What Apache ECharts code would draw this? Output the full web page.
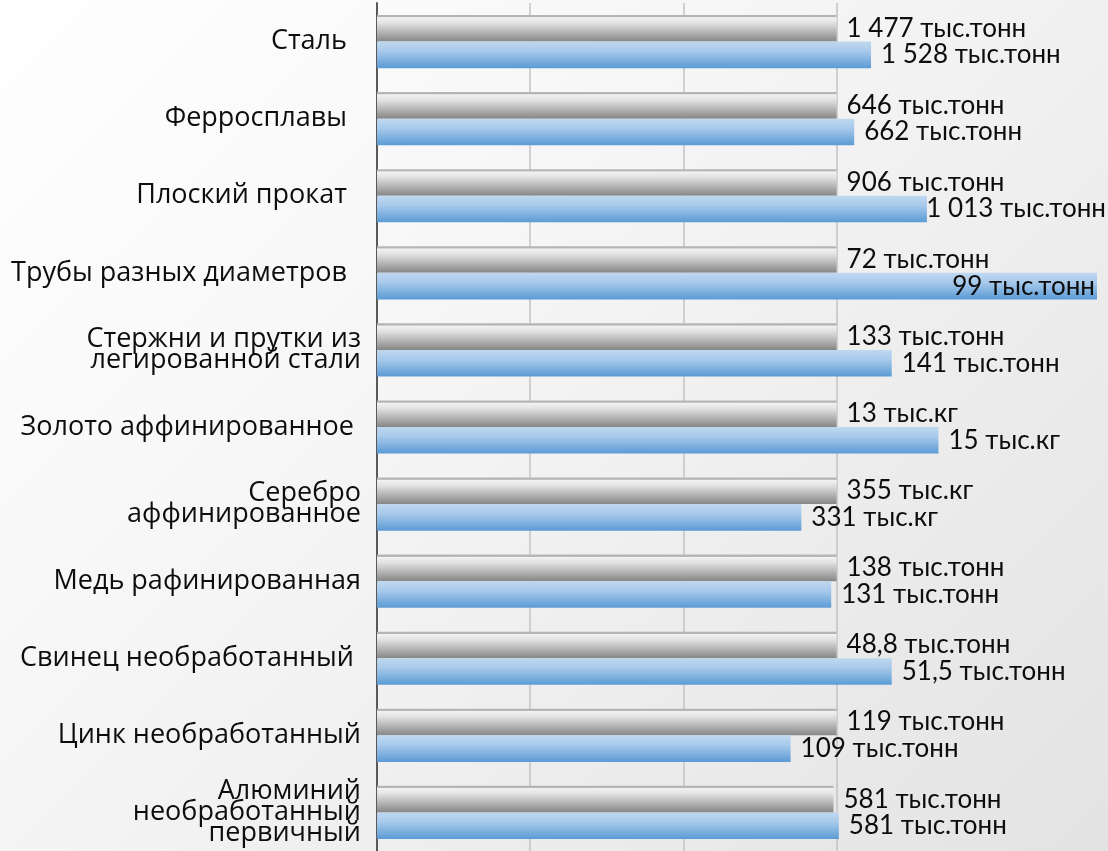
<!DOCTYPE html>
<html>
<head>
<meta charset="utf-8">
<script src="https://cdn.jsdelivr.net/npm/echarts@6/dist/echarts.min.js"></script>
<style>
html,body{margin:0;padding:0;}
body{background:linear-gradient(135deg,#ffffff 0%,#f7f7f7 35%,#ececec 70%,#e3e3e3 100%);}
#chart{width:1108px;height:851px;}
</style>
</head>
<body>
<div id="chart"></div>
<script>
// Categories (top to bottom)
const categories = [
  'Сталь  ',
  'Ферросплавы  ',
  'Плоский прокат  ',
  'Трубы разных диаметров  ',
  'Стержни и прутки из\nлегированной стали',
  'Золото аффинированное ',
  'Серебро\nаффинированное',
  'Медь рафинированная',
  'Свинец необработанный ',
  'Цинк необработанный',
  'Алюминий\nнеобработанный\nпервичный'
];
// Relative bar lengths (previous period = 100)
const prevValues = [100, 100, 100, 100, 100, 100, 100, 100, 100, 100, 99.6];
const currValues = [104.5, 102.3, 111.8, 137.5, 107.2, 113.3, 95.4, 99.3, 107.2, 94.0, 100.3];
// Data label texts
const prevLabels = ['1 477 тыс.тонн', '646 тыс.тонн', '906 тыс.тонн', '72 тыс.тонн', '133 тыс.тонн', '13 тыс.кг', '355 тыс.кг', '138 тыс.тонн', '48,8 тыс.тонн', '119 тыс.тонн', '581 тыс.тонн'];
const currLabels = ['1 528 тыс.тонн', '662 тыс.тонн', '1 013 тыс.тонн', '99 тыс.тонн', '141 тыс.тонн', '15 тыс.кг', '331 тыс.кг', '131 тыс.тонн', '51,5 тыс.тонн', '109 тыс.тонн', '581 тыс.тонн'];

const AX_MIN = 40, AX_MAX = 134, AX_INT = 20;

const chart = echarts.init(document.getElementById('chart'), null, {renderer: 'canvas'});

const grayGrad = new echarts.graphic.LinearGradient(0, 0, 0, 1, [
  {offset: 0, color: '#b5b5b5'},
  {offset: 0.07, color: '#b5b5b5'},
  {offset: 0.1, color: '#f2f2f2'},
  {offset: 0.3, color: '#e2e2e2'},
  {offset: 1, color: '#868686'}
]);
const blueGrad = new echarts.graphic.LinearGradient(0, 0, 0, 1, [
  {offset: 0, color: '#bfd8f0'},
  {offset: 0.35, color: '#a9caeb'},
  {offset: 1, color: '#5b9bd5'}
]);

const labelFont = {fontFamily: 'Lato', fontSize: 26, color: '#0d0d0d'};

function makeData(values, labels) {
  return values.map((v, i) => {
    const item = {value: v, label: {formatter: labels[i]}};
    if (v > AX_MAX) {
      item.label.position = 'insideRight';
      item.label.distance = 2;
    }
    return item;
  });
}

const option = {
  backgroundColor: 'transparent',
  animation: false,
  grid: {left: 377, right: 11, top: 3, height: 850, containLabel: false},
  xAxis: {
    type: 'value',
    min: AX_MIN, max: AX_MAX, interval: AX_INT,
    axisLine: {show: false},
    axisTick: {show: false},
    axisLabel: {show: false},
    splitLine: {
      show: true,
      lineStyle: {
        color: ['rgba(0,0,0,0)', '#c3c3c3', '#c3c3c3', '#c3c3c3', 'rgba(0,0,0,0)', 'rgba(0,0,0,0)'],
        width: 1.5
      }
    }
  },
  yAxis: {
    type: 'category',
    inverse: true,
    data: categories,
    axisLine: {show: true, lineStyle: {color: '#595959', width: 2}},
    axisTick: {show: false},
    axisLabel: {
      margin: 16,
      fontFamily: 'Open Sans',
      fontSize: 27,
      lineHeight: 21,
      color: '#0d0d0d',
      interval: 0,
      padding: [0, 0, 6, 0]
    }
  },
  series: [
    {
      name: 'prev',
      type: 'bar',
      data: makeData(prevValues, prevLabels),
      barGap: '0%',
      barCategoryGap: '31%',
      itemStyle: {color: grayGrad},
      label: Object.assign({show: true, position: 'right', distance: 10, offset: [0, -5]}, labelFont),
      clip: true
    },
    {
      name: 'curr',
      type: 'bar',
      data: makeData(currValues, currLabels),
      barGap: '0%',
      barCategoryGap: '31%',
      itemStyle: {color: blueGrad},
      label: Object.assign({show: true, position: 'right', distance: 10}, labelFont),
      clip: true
    }
  ],
  labelLayout: function (params) {
    const r = params.labelRect;
    const limit = 1106;
    if (r.x + r.width > limit) {
      return {x: limit - r.width, y: r.y + r.height / 2, align: 'left', verticalAlign: 'middle'};
    }
    return {};
  }
};
chart.setOption(option);
</script>
</body>
</html>
